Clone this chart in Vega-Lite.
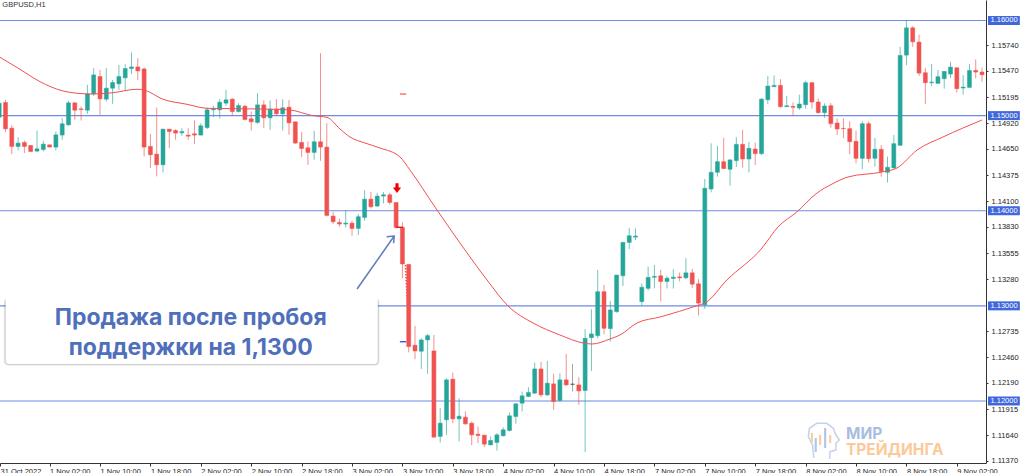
{
  "$schema": "https://vega.github.io/schema/vega-lite/v6.json",
  "width": 986,
  "height": 463,
  "autosize": {"type": "none"},
  "padding": {"left": 0, "top": 0, "right": 38, "bottom": 10},
  "background": "white",
  "config": {"view": {"stroke": null}},
  "resolve": {"scale": {"color": "independent"}},
  "datasets": {
    "candles": [
      {"i":0,"o":1.14984,"h":1.15148,"l":1.14974,"c":1.15131},
      {"i":1,"o":1.15138,"h":1.15166,"l":1.14826,"c":1.14861},
      {"i":2,"o":1.14868,"h":1.149,"l":1.14595,"c":1.14676},
      {"i":3,"o":1.14676,"h":1.14774,"l":1.14634,"c":1.14711},
      {"i":4,"o":1.14718,"h":1.14739,"l":1.14606,"c":1.14676},
      {"i":5,"o":1.14686,"h":1.14686,"l":1.1462,"c":1.14623},
      {"i":6,"o":1.14627,"h":1.14844,"l":1.1462,"c":1.14651},
      {"i":7,"o":1.14644,"h":1.14735,"l":1.14623,"c":1.147},
      {"i":8,"o":1.14693,"h":1.14693,"l":1.14669,"c":1.14669},
      {"i":9,"o":1.14669,"h":1.14833,"l":1.14634,"c":1.14798},
      {"i":10,"o":1.14795,"h":1.14973,"l":1.14746,"c":1.14914},
      {"i":11,"o":1.14903,"h":1.15155,"l":1.14893,"c":1.15134},
      {"i":12,"o":1.15134,"h":1.15145,"l":1.14956,"c":1.15057},
      {"i":13,"o":1.15071,"h":1.15096,"l":1.14949,"c":1.15064},
      {"i":14,"o":1.15057,"h":1.15323,"l":1.15019,"c":1.15229},
      {"i":15,"o":1.15229,"h":1.15498,"l":1.15208,"c":1.15428},
      {"i":16,"o":1.15411,"h":1.15481,"l":1.15008,"c":1.15176},
      {"i":17,"o":1.15173,"h":1.15498,"l":1.15148,"c":1.15288},
      {"i":18,"o":1.15288,"h":1.15376,"l":1.15124,"c":1.15348},
      {"i":19,"o":1.15334,"h":1.15533,"l":1.15271,"c":1.15411},
      {"i":20,"o":1.15397,"h":1.1554,"l":1.15264,"c":1.15495},
      {"i":21,"o":1.15495,"h":1.15663,"l":1.15435,"c":1.15512},
      {"i":22,"o":1.15512,"h":1.15603,"l":1.15376,"c":1.1547},
      {"i":23,"o":1.15491,"h":1.15505,"l":1.14571,"c":1.14669},
      {"i":24,"o":1.14676,"h":1.14809,"l":1.14448,"c":1.14588},
      {"i":25,"o":1.14595,"h":1.15085,"l":1.14361,"c":1.14483},
      {"i":26,"o":1.14483,"h":1.14858,"l":1.14403,"c":1.14858},
      {"i":27,"o":1.14858,"h":1.14858,"l":1.14658,"c":1.14833},
      {"i":28,"o":1.14844,"h":1.14858,"l":1.14746,"c":1.14816},
      {"i":29,"o":1.14819,"h":1.14868,"l":1.14788,"c":1.14833},
      {"i":30,"o":1.14795,"h":1.14868,"l":1.14746,"c":1.14784},
      {"i":31,"o":1.14809,"h":1.14949,"l":1.14704,"c":1.14795},
      {"i":32,"o":1.14795,"h":1.14921,"l":1.14795,"c":1.14893},
      {"i":33,"o":1.14875,"h":1.15085,"l":1.14858,"c":1.15061},
      {"i":34,"o":1.15061,"h":1.15103,"l":1.14984,"c":1.15075},
      {"i":35,"o":1.15061,"h":1.15173,"l":1.1497,"c":1.15141},
      {"i":36,"o":1.15131,"h":1.15271,"l":1.15103,"c":1.15166},
      {"i":37,"o":1.15173,"h":1.15183,"l":1.14998,"c":1.15043},
      {"i":38,"o":1.15043,"h":1.15131,"l":1.15033,"c":1.15106},
      {"i":39,"o":1.15099,"h":1.15113,"l":1.14949,"c":1.14959},
      {"i":40,"o":1.14966,"h":1.15043,"l":1.14844,"c":1.14935},
      {"i":41,"o":1.14928,"h":1.15236,"l":1.14914,"c":1.15113},
      {"i":42,"o":1.15113,"h":1.15159,"l":1.14868,"c":1.14977},
      {"i":43,"o":1.14977,"h":1.15159,"l":1.14851,"c":1.15068},
      {"i":44,"o":1.15068,"h":1.15173,"l":1.14998,"c":1.15019},
      {"i":45,"o":1.15019,"h":1.15173,"l":1.14844,"c":1.15082},
      {"i":46,"o":1.15089,"h":1.15166,"l":1.14798,"c":1.14924},
      {"i":47,"o":1.14935,"h":1.14935,"l":1.14704,"c":1.14711},
      {"i":48,"o":1.14718,"h":1.14826,"l":1.14564,"c":1.14655},
      {"i":49,"o":1.14662,"h":1.14728,"l":1.14483,"c":1.14613},
      {"i":50,"o":1.14613,"h":1.1484,"l":1.14536,"c":1.14725},
      {"i":51,"o":1.14725,"h":1.15656,"l":1.14525,"c":1.14669},
      {"i":52,"o":1.14669,"h":1.14921,"l":1.13941,"c":1.13951},
      {"i":53,"o":1.13944,"h":1.13989,"l":1.1386,"c":1.13884},
      {"i":54,"o":1.13877,"h":1.13919,"l":1.13832,"c":1.1386},
      {"i":55,"o":1.1386,"h":1.14007,"l":1.13825,"c":1.1387},
      {"i":56,"o":1.1387,"h":1.13895,"l":1.13737,"c":1.13814},
      {"i":57,"o":1.13814,"h":1.13965,"l":1.13744,"c":1.13937},
      {"i":58,"o":1.1393,"h":1.14217,"l":1.13895,"c":1.14122},
      {"i":59,"o":1.14122,"h":1.14199,"l":1.14024,"c":1.14042},
      {"i":60,"o":1.14049,"h":1.14189,"l":1.14042,"c":1.14154},
      {"i":61,"o":1.14154,"h":1.14196,"l":1.14077,"c":1.14168},
      {"i":62,"o":1.14168,"h":1.14189,"l":1.14063,"c":1.14087},
      {"i":63,"o":1.14087,"h":1.14087,"l":1.13814,"c":1.13825},
      {"i":64,"o":1.13825,"h":1.13877,"l":1.13289,"c":1.1344},
      {"i":65,"o":1.13436,"h":1.13436,"l":1.12512,"c":1.12572},
      {"i":66,"o":1.12586,"h":1.12789,"l":1.12439,"c":1.12526},
      {"i":67,"o":1.12523,"h":1.12659,"l":1.12337,"c":1.12642},
      {"i":68,"o":1.12642,"h":1.12705,"l":1.12285,"c":1.12687},
      {"i":69,"o":1.12526,"h":1.12694,"l":1.11616,"c":1.1162},
      {"i":70,"o":1.11627,"h":1.11924,"l":1.11564,"c":1.11767},
      {"i":71,"o":1.11802,"h":1.12239,"l":1.11644,"c":1.12222},
      {"i":72,"o":1.12229,"h":1.12299,"l":1.11767,"c":1.11812},
      {"i":73,"o":1.11812,"h":1.12029,"l":1.11574,"c":1.1184},
      {"i":74,"o":1.1183,"h":1.11889,"l":1.11749,"c":1.1176},
      {"i":75,"o":1.11767,"h":1.11784,"l":1.11536,"c":1.11644},
      {"i":76,"o":1.11651,"h":1.11732,"l":1.11557,"c":1.11637},
      {"i":77,"o":1.11641,"h":1.11641,"l":1.11515,"c":1.11546},
      {"i":78,"o":1.11539,"h":1.11627,"l":1.11532,"c":1.11585},
      {"i":79,"o":1.11564,"h":1.11662,"l":1.1148,"c":1.11644},
      {"i":80,"o":1.11634,"h":1.11725,"l":1.11627,"c":1.11697},
      {"i":81,"o":1.1169,"h":1.11879,"l":1.11679,"c":1.11844},
      {"i":82,"o":1.11837,"h":1.11977,"l":1.1176,"c":1.1197},
      {"i":83,"o":1.11977,"h":1.12099,"l":1.11889,"c":1.12054},
      {"i":84,"o":1.12047,"h":1.12145,"l":1.1204,"c":1.12089},
      {"i":85,"o":1.12082,"h":1.12404,"l":1.12075,"c":1.12337},
      {"i":86,"o":1.12337,"h":1.12411,"l":1.1204,"c":1.12064},
      {"i":87,"o":1.12064,"h":1.12421,"l":1.12054,"c":1.12187},
      {"i":88,"o":1.1218,"h":1.12285,"l":1.11907,"c":1.11994},
      {"i":89,"o":1.12005,"h":1.12292,"l":1.11994,"c":1.12222},
      {"i":90,"o":1.12222,"h":1.12495,"l":1.12159,"c":1.12169},
      {"i":91,"o":1.12176,"h":1.1239,"l":1.12099,"c":1.12176},
      {"i":92,"o":1.12169,"h":1.1225,"l":1.11959,"c":1.12106},
      {"i":93,"o":1.1211,"h":1.12754,"l":1.11462,"c":1.12659},
      {"i":94,"o":1.12666,"h":1.12964,"l":1.12316,"c":1.12705},
      {"i":95,"o":1.12687,"h":1.13377,"l":1.12659,"c":1.13149},
      {"i":96,"o":1.13149,"h":1.13219,"l":1.12701,"c":1.12764},
      {"i":97,"o":1.12761,"h":1.13051,"l":1.12624,"c":1.12957},
      {"i":98,"o":1.12939,"h":1.13324,"l":1.12929,"c":1.13324},
      {"i":99,"o":1.13317,"h":1.13674,"l":1.13209,"c":1.13667},
      {"i":100,"o":1.13667,"h":1.13821,"l":1.13597,"c":1.13737},
      {"i":101,"o":1.13723,"h":1.13814,"l":1.13692,"c":1.13734},
      {"i":102,"o":1.13044,"h":1.13237,"l":1.12999,"c":1.13195},
      {"i":103,"o":1.13184,"h":1.13412,"l":1.1316,"c":1.133},
      {"i":104,"o":1.133,"h":1.13429,"l":1.13184,"c":1.1331},
      {"i":105,"o":1.13316,"h":1.13379,"l":1.13046,"c":1.13256},
      {"i":106,"o":1.13256,"h":1.13316,"l":1.13183,"c":1.13291},
      {"i":107,"o":1.13288,"h":1.13386,"l":1.13183,"c":1.13302},
      {"i":108,"o":1.13305,"h":1.13351,"l":1.13256,"c":1.13295},
      {"i":109,"o":1.13295,"h":1.13501,"l":1.13281,"c":1.13347},
      {"i":110,"o":1.13347,"h":1.13389,"l":1.13186,"c":1.13228},
      {"i":111,"o":1.13232,"h":1.13281,"l":1.12899,"c":1.13029},
      {"i":112,"o":1.13011,"h":1.14334,"l":1.12966,"c":1.14236},
      {"i":113,"o":1.14229,"h":1.14709,"l":1.14194,"c":1.14404},
      {"i":114,"o":1.14404,"h":1.14681,"l":1.14359,"c":1.14516},
      {"i":115,"o":1.14516,"h":1.14768,"l":1.14439,"c":1.14443},
      {"i":116,"o":1.14436,"h":1.14544,"l":1.14264,"c":1.14534},
      {"i":117,"o":1.14527,"h":1.14775,"l":1.1446,"c":1.14698},
      {"i":118,"o":1.14698,"h":1.14849,"l":1.14453,"c":1.14544},
      {"i":119,"o":1.14544,"h":1.14723,"l":1.14404,"c":1.14656},
      {"i":120,"o":1.14649,"h":1.14716,"l":1.14481,"c":1.146},
      {"i":121,"o":1.146,"h":1.15181,"l":1.14586,"c":1.15174},
      {"i":122,"o":1.15167,"h":1.15416,"l":1.15122,"c":1.15311},
      {"i":123,"o":1.15304,"h":1.15423,"l":1.15304,"c":1.15318},
      {"i":124,"o":1.15318,"h":1.15384,"l":1.15083,"c":1.15094},
      {"i":125,"o":1.15094,"h":1.15206,"l":1.15094,"c":1.15104},
      {"i":126,"o":1.15097,"h":1.15139,"l":1.15006,"c":1.15087},
      {"i":127,"o":1.1508,"h":1.1522,"l":1.15059,"c":1.15122},
      {"i":128,"o":1.15115,"h":1.15367,"l":1.15073,"c":1.15346},
      {"i":129,"o":1.15346,"h":1.15353,"l":1.15073,"c":1.15143},
      {"i":130,"o":1.15143,"h":1.15181,"l":1.1502,"c":1.15031},
      {"i":131,"o":1.15031,"h":1.15129,"l":1.14978,"c":1.15101},
      {"i":132,"o":1.15104,"h":1.15132,"l":1.14873,"c":1.14915},
      {"i":133,"o":1.14922,"h":1.14971,"l":1.14796,"c":1.14859},
      {"i":134,"o":1.14866,"h":1.14971,"l":1.14761,"c":1.14863},
      {"i":135,"o":1.14863,"h":1.1494,"l":1.14593,"c":1.14726},
      {"i":136,"o":1.1473,"h":1.14842,"l":1.14499,"c":1.14551},
      {"i":137,"o":1.14551,"h":1.1494,"l":1.14436,"c":1.14915},
      {"i":138,"o":1.14915,"h":1.1494,"l":1.14506,"c":1.14548},
      {"i":139,"o":1.14551,"h":1.14765,"l":1.14464,"c":1.14646},
      {"i":140,"o":1.14646,"h":1.14691,"l":1.14359,"c":1.14411},
      {"i":141,"o":1.14404,"h":1.14569,"l":1.14296,"c":1.14457},
      {"i":142,"o":1.1445,"h":1.14796,"l":1.14443,"c":1.14705},
      {"i":143,"o":1.14688,"h":1.15724,"l":1.14681,"c":1.15633},
      {"i":144,"o":1.15636,"h":1.16004,"l":1.15531,"c":1.15923},
      {"i":145,"o":1.15923,"h":1.15941,"l":1.15724,"c":1.15776},
      {"i":146,"o":1.15773,"h":1.15853,"l":1.15416,"c":1.15447},
      {"i":147,"o":1.15451,"h":1.15503,"l":1.15122,"c":1.15346},
      {"i":148,"o":1.15346,"h":1.15542,"l":1.15311,"c":1.15353},
      {"i":149,"o":1.15339,"h":1.15479,"l":1.15339,"c":1.15409},
      {"i":150,"o":1.15388,"h":1.15468,"l":1.15283,"c":1.15465},
      {"i":151,"o":1.15437,"h":1.15566,"l":1.15395,"c":1.1551},
      {"i":152,"o":1.15503,"h":1.15507,"l":1.15241,"c":1.15283},
      {"i":153,"o":1.1529,"h":1.15426,"l":1.1522,"c":1.153},
      {"i":154,"o":1.15297,"h":1.15542,"l":1.1529,"c":1.15475},
      {"i":155,"o":1.15475,"h":1.15591,"l":1.15391,"c":1.15458},
      {"i":156,"o":1.15458,"h":1.15507,"l":1.15356,"c":1.1543}
    ],
    "ma": [
      {"i":0.13,"p":1.15613},{"i":3.3,"p":1.15487},{"i":6.48,"p":1.15357},{"i":9.97,"p":1.15262},
      {"i":12.35,"p":1.15235},{"i":14.89,"p":1.15227},{"i":18.06,"p":1.15241},{"i":21.87,"p":1.15277},
      {"i":23,"p":1.15269},{"i":26,"p":1.15172},{"i":29.81,"p":1.15119},{"i":32.98,"p":1.15077},
      {"i":37.1,"p":1.15073},{"i":44.1,"p":1.15066},{"i":46.2,"p":1.15059},{"i":49.81,"p":1.14999},
      {"i":52.03,"p":1.14982},{"i":54.1,"p":1.14859},{"i":55.68,"p":1.14775},{"i":58.06,"p":1.14712},
      {"i":60.44,"p":1.1466},{"i":63.62,"p":1.14565},{"i":65.2,"p":1.14428},{"i":69.17,"p":1.14039},
      {"i":73.14,"p":1.13661},{"i":77.43,"p":1.13272},{"i":80.76,"p":1.12999},{"i":84.73,"p":1.1282},
      {"i":89,"p":1.12694},{"i":92.67,"p":1.1261},{"i":94.1,"p":1.12599},{"i":96.95,"p":1.12652},
      {"i":98.54,"p":1.12694},{"i":101.24,"p":1.1282},{"i":104.9,"p":1.12883},{"i":111.1,"p":1.13009},
      {"i":112.03,"p":1.1303},{"i":115.5,"p":1.13272},{"i":121.08,"p":1.13608},{"i":123.6,"p":1.13829},
      {"i":126.6,"p":1.13987},{"i":129.8,"p":1.14186},{"i":132.2,"p":1.14281},{"i":134.73,"p":1.14355},
      {"i":140.1,"p":1.14407},{"i":142.5,"p":1.14449},{"i":145.7,"p":1.14639},{"i":149.8,"p":1.14775},
      {"i":156,"p":1.14954}
    ],
    "levels": [
      {"p":1.16,"label":"1.16000","from":0.13,"to":156.6,"boxFrom":156.95,"boxTo":162,"mid":159.5},
      {"p":1.15,"label":"1.15000","from":0.13,"to":156.6,"boxFrom":156.95,"boxTo":162,"mid":159.5},
      {"p":1.14,"label":"1.14000","from":0.13,"to":156.6,"boxFrom":156.95,"boxTo":162,"mid":159.5},
      {"p":1.13,"label":"1.13000","from":0.13,"to":156.6,"boxFrom":156.95,"boxTo":162,"mid":159.5},
      {"p":1.12,"label":"1.12000","from":0.13,"to":156.6,"boxFrom":156.95,"boxTo":162,"mid":159.5}
    ],
    "note": [{"i":1,"i2":60.1,"p":1.13093,"p2":1.12389}],
    "noteText": [
      {"i":30.4,"p":1.12872,"text":"Продажа после пробоя"},
      {"i":30.4,"p":1.12557,"text":"поддержки на 1,1300"}
    ],
    "arrow": [
      {"part":"shaft","n":1,"i":56.8,"p":1.13177},
      {"part":"shaft","n":2,"i":62.7,"p":1.13734},
      {"part":"head","n":1,"i":61.5,"p":1.13727},
      {"part":"head","n":2,"i":62.7,"p":1.13734},
      {"part":"head","n":3,"i":62.6,"p":1.13658}
    ],
    "head": [
      {"n":1,"i":129.3,"p":1.11401},{"n":2,"i":129.1,"p":1.11537},{"n":3,"i":128.43,"p":1.11625},
      {"n":4,"i":128.6,"p":1.11713},{"n":5,"i":129.76,"p":1.11765},{"n":6,"i":131.35,"p":1.11765},
      {"n":7,"i":132.4,"p":1.11713},{"n":8,"i":132.8,"p":1.11642},{"n":9,"i":133.35,"p":1.1159},
      {"n":10,"i":132.8,"p":1.11555},{"n":11,"i":132.8,"p":1.11485},{"n":12,"i":131.87,"p":1.11467},
      {"n":13,"i":131.8,"p":1.1139}
    ],
    "logoBars": [
      {"i":129,"top":1.11663,"bottom":1.11569,"tone":"orange"},
      {"i":129.6,"top":1.11611,"bottom":1.11464,"tone":"blue"},
      {"i":130.3,"top":1.11642,"bottom":1.11537,"tone":"orange"},
      {"i":131.1,"top":1.11716,"bottom":1.11506,"tone":"blue"},
      {"i":131.9,"top":1.11642,"bottom":1.11558,"tone":"orange"}
    ],
    "logoText": [
      {"i":134.4,"p":1.11658,"text":"МИР","tone":"blue"},
      {"i":134.4,"p":1.11485,"text":"ТРЕЙДИНГА","tone":"orange"}
    ],
    "marks": [
      {"kind":"sell","i":63.6,"i2":64.6,"p":1.15227},
      {"kind":"order","i":63,"i2":64.1,"p":1.13826},
      {"kind":"stop","i":63.6,"i2":64.6,"p":1.12623}
    ]
  },
  "encoding": {
    "x": {
      "field": "i",
      "type": "quantitative",
      "title": null,
      "scale": {"domain": [0.127, 156.63], "nice": false, "zero": false, "padding": 0},
      "axis": {
        "orient": "bottom",
        "values": [0.13,8,16,24,32,40,48,56,64,72,80,88,96,104,112,120,128,136,144,152],
        "tickCount": 30,
        "labelExpr": "['31 Oct 2022','1 Nov 02:00','1 Nov 10:00','1 Nov 18:00','2 Nov 02:00','2 Nov 10:00','2 Nov 18:00','3 Nov 02:00','3 Nov 10:00','3 Nov 18:00','4 Nov 02:00','4 Nov 10:00','4 Nov 18:00','7 Nov 02:00','7 Nov 10:00','7 Nov 18:00','8 Nov 02:00','8 Nov 10:00','8 Nov 18:00','9 Nov 02:00'][floor(datum.value/8)]",
        "grid": false,
        "labelAlign": "left",
        "labelBaseline": "top",
        "labelFont": "Liberation Sans",
        "labelFontSize": 7.5,
        "labelColor": "#222222",
        "labelPadding": 1,
        "labelOverlap": false,
        "labelBound": false,
        "labelFlush": false,
        "tickSize": 3,
        "tickColor": "#333333",
        "domainColor": "#333333"
      }
    }
  },
  "layer": [
    {
      "data": {"name": "levels"},
      "mark": {"type": "rule", "color": "#6f8ae3", "strokeWidth": 1.2},
      "encoding": {
        "x": {"field": "from", "type": "quantitative"},
        "x2": {"field": "to"},
        "y": {
          "field": "p",
          "type": "quantitative",
          "title": null,
          "scale": {"domain": [1.11348, 1.162155], "nice": false, "zero": false},
          "axis": {
            "orient": "right",
            "values": [1.1574,1.1547,1.15195,1.1492,1.1465,1.14375,1.141,1.1383,1.13555,1.1328,1.12735,1.1246,1.1219,1.11915,1.1164,1.1137],
            "tickCount": 30,
            "format": ".5f",
            "grid": false,
            "labelFont": "Liberation Sans",
            "labelFontSize": 7.5,
            "labelColor": "#222222",
            "labelPadding": 3,
            "labelOverlap": false,
            "labelBound": false,
            "labelFlush": false,
            "tickSize": 2,
            "tickColor": "#333333",
            "domainColor": "#333333"
          }
        }
      }
    },
    {
      "data": {"name": "candles"},
      "mark": {"type": "rule", "strokeWidth": 1, "opacity": 0.65},
      "encoding": {
        "y": {"field": "l", "type": "quantitative"},
        "y2": {"field": "h"},
        "color": {
          "condition": [
            {"test": "datum.c > datum.o", "value": "#26a69a"},
            {"test": "datum.c == datum.o", "value": "#777777"}
          ],
          "value": "#ef5350"
        }
      }
    },
    {
      "data": {"name": "candles"},
      "mark": {"type": "bar", "width": 4, "strokeWidth": 0.5},
      "encoding": {
        "y": {"field": "o", "type": "quantitative"},
        "y2": {"field": "c"},
        "color": {
          "condition": [
            {"test": "datum.c > datum.o", "value": "#26a69a"},
            {"test": "datum.c == datum.o", "value": "#222222"}
          ],
          "value": "#ef5350"
        },
        "stroke": {
          "condition": [
            {"test": "datum.c > datum.o", "value": "#26a69a"},
            {"test": "datum.c == datum.o", "value": "#222222"}
          ],
          "value": "#ef5350"
        }
      }
    },
    {
      "data": {"name": "ma"},
      "mark": {"type": "line", "color": "#f25050", "strokeWidth": 1, "interpolate": "monotone"},
      "encoding": {"y": {"field": "p", "type": "quantitative"}}
    },
    {
      "data": {"name": "levels"},
      "mark": {"type": "rule", "color": "#4068dc", "strokeWidth": 9},
      "encoding": {
        "x": {"field": "boxFrom", "type": "quantitative"},
        "x2": {"field": "boxTo"},
        "y": {"field": "p", "type": "quantitative"}
      }
    },
    {
      "data": {"name": "levels"},
      "mark": {"type": "text", "color": "white", "font": "Liberation Sans", "fontSize": 7.5},
      "encoding": {
        "x": {"field": "mid", "type": "quantitative"},
        "y": {"field": "p", "type": "quantitative"},
        "text": {"field": "label"}
      }
    },
    {
      "data": {"values": [{"i": 0.5, "p": 1.16158, "text": "GBPUSD,H1"}]},
      "mark": {"type": "text", "align": "left", "color": "#333333", "font": "Liberation Sans", "fontSize": 7.5},
      "encoding": {
        "y": {"field": "p", "type": "quantitative"},
        "text": {"field": "text"}
      }
    },
    {
      "data": {"name": "marks"},
      "mark": {"type": "rule", "strokeWidth": 1.4},
      "encoding": {
        "x2": {"field": "i2"},
        "y": {"field": "p", "type": "quantitative"},
        "color": {
          "field": "kind",
          "scale": {"domain": ["sell", "order", "stop"], "range": ["#ff6b6b", "#f01818", "#3a55e8"]},
          "legend": null
        }
      }
    },
    {
      "data": {"values": [{"i": 64.46, "i2": 64.8, "p": 1.1343, "p2": 1.13009}]},
      "mark": {"type": "rule", "color": "#ef5350", "strokeWidth": 1.5, "strokeDash": [1.5, 1.5]},
      "encoding": {
        "x2": {"field": "i2"},
        "y": {"field": "p", "type": "quantitative"},
        "y2": {"field": "p2"}
      }
    },
    {
      "data": {"values": [{"i": 63.14, "p": 1.14239}]},
      "mark": {
        "type": "point",
        "filled": true,
        "opacity": 1,
        "color": "#f20000",
        "size": 95,
        "shape": "M-0.32,-1 L0.32,-1 L0.32,-0.1 L0.85,-0.1 L0,1 L-0.85,-0.1 L-0.32,-0.1 Z"
      },
      "encoding": {"y": {"field": "p", "type": "quantitative"}}
    },
    {
      "data": {"name": "arrow"},
      "mark": {"type": "line", "color": "#5f7bbd", "strokeWidth": 1.5},
      "encoding": {
        "y": {"field": "p", "type": "quantitative"},
        "detail": {"field": "part"},
        "order": {"field": "n"}
      }
    },
    {
      "data": {"name": "note"},
      "mark": {"type": "rect", "cornerRadius": 3, "fill": "#000000", "fillOpacity": 0.05, "stroke": "#000000", "strokeOpacity": 0.05, "strokeWidth": 4, "yOffset": 3},
      "encoding": {"x2": {"field": "i2"}, "y": {"field": "p", "type": "quantitative"}, "y2": {"field": "p2"}}
    },
    {
      "data": {"name": "note"},
      "mark": {"type": "rect", "cornerRadius": 3, "fill": "#000000", "fillOpacity": 0.2, "stroke": "#000000", "strokeOpacity": 0.14, "strokeWidth": 2, "yOffset": 2},
      "encoding": {"x2": {"field": "i2"}, "y": {"field": "p", "type": "quantitative"}, "y2": {"field": "p2"}}
    },
    {
      "data": {"name": "note"},
      "mark": {"type": "rect", "cornerRadius": 3, "fill": "white"},
      "encoding": {"x2": {"field": "i2"}, "y": {"field": "p", "type": "quantitative"}, "y2": {"field": "p2"}}
    },
    {
      "data": {"name": "noteText"},
      "mark": {"type": "text", "color": "#4f6fbb", "font": "Inter", "fontWeight": 700, "fontSize": 23},
      "encoding": {
        "y": {"field": "p", "type": "quantitative"},
        "text": {"field": "text"}
      }
    },
    {
      "data": {"name": "head"},
      "mark": {"type": "line", "color": "#c4d2ea", "strokeWidth": 1.5},
      "encoding": {
        "y": {"field": "p", "type": "quantitative"},
        "order": {"field": "n"}
      }
    },
    {
      "data": {"name": "logoBars"},
      "mark": {"type": "rule", "strokeWidth": 2.2},
      "encoding": {
        "y": {"field": "top", "type": "quantitative"},
        "y2": {"field": "bottom"},
        "color": {
          "field": "tone",
          "scale": {"domain": ["blue", "orange"], "range": ["#b4c6e6", "#fbcd9f"]},
          "legend": null
        }
      }
    },
    {
      "data": {"name": "logoText"},
      "mark": {"type": "text", "align": "left", "font": "Inter", "fontWeight": 700, "fontSize": 15.5},
      "encoding": {
        "y": {"field": "p", "type": "quantitative"},
        "text": {"field": "text"},
        "color": {
          "field": "tone",
          "scale": {"domain": ["blue", "orange"], "range": ["#a9bde0", "#fbc99a"]},
          "legend": null
        }
      }
    }
  ]
}
